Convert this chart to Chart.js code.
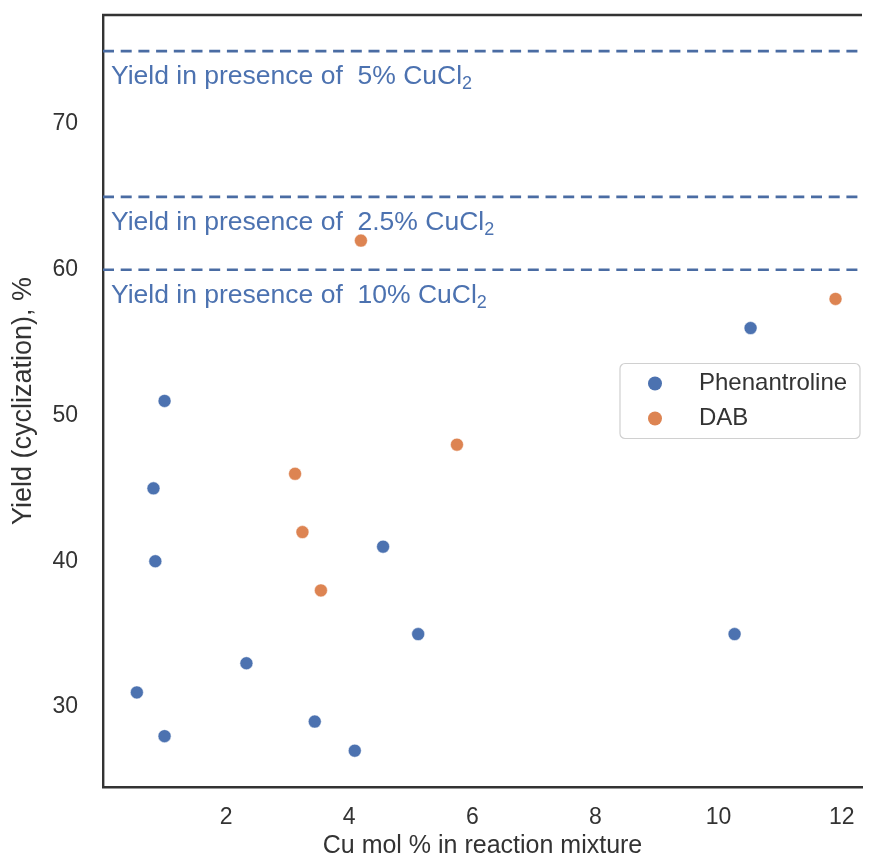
<!DOCTYPE html>
<html lang="en">
<head>
    <meta charset="UTF-8">
    <title>Yield vs Cu mol %</title>
    <style>
        html, body { margin: 0; padding: 0; background: #fff; overflow: hidden; }
        .grafico { width: 869px; height: 861px; }
        canvas { display: block; }
    </style>
</head>
<body>
    <div class="grafico">
        <canvas id="myChart" width="869" height="861"></canvas>
    </div>

<script src="https://cdn.jsdelivr.net/npm/chart.js"></script>

<script>
    // data
    const phenX = [1.0, 0.82, 0.85, 0.55, 1.0, 2.33, 3.44, 4.09, 4.55, 5.12, 10.26, 10.52];
    const phenY = [51, 45, 40, 31, 28, 33, 29, 27, 41, 35, 35, 56];
    const dabX = [4.19, 3.12, 3.24, 3.54, 5.75, 11.9];
    const dabY = [62, 46, 42, 38, 48, 58];

    const refYields = [75, 65, 60];
    const refLabels = ['5%', '2.5%', '10%'];

    const xTicks = [2, 4, 6, 8, 10, 12];
    const yTicks = [30, 40, 50, 60, 70];

    const xMin = 0, xMax = 12.33;
    const yMin = 24.51, yMax = 77.48;

    const azul = '#4c72b0';
    const laranja = '#dd8452';
    const texto = '#333333';
    const fonte = "'Liberation Sans', Arial, sans-serif";

    function pontos(xs, ys) {
        var lista = [];
        for (var i = 0; i < xs.length; i++) {
            lista.push({ x: xs[i], y: ys[i] });
        }
        return lista;
    }

    var datasets = [
        {
            type: 'scatter',
            label: 'Phenantroline',
            data: pontos(phenX, phenY),
            backgroundColor: azul,
            borderColor: '#ffffff',
            borderWidth: 0.5,
            pointRadius: 6.5
        },
        {
            type: 'scatter',
            label: 'DAB',
            data: pontos(dabX, dabY),
            backgroundColor: laranja,
            borderColor: '#ffffff',
            borderWidth: 0.5,
            pointRadius: 6.5
        }
    ];

    // horizontal reference lines
    for (var r = 0; r < refYields.length; r++) {
        datasets.push({
            type: 'line',
            label: 'ref' + r,
            data: [{ x: xMin, y: refYields[r] }, { x: xMax, y: refYields[r] }],
            borderColor: '#4a6ca3',
            borderWidth: 2.6,
            borderDash: [11, 6.7],
            pointRadius: 0,
            fill: false
        });
    }

    const moldura = {
        id: 'moldura',
        afterDraw(chart) {
            const ctx = chart.ctx;
            const a = chart.chartArea;
            ctx.save();
            ctx.strokeStyle = texto;
            ctx.lineWidth = 2.4;
            ctx.beginPath();
            ctx.moveTo(a.left - 1, a.top);
            ctx.lineTo(a.right, a.top);
            ctx.stroke();
            ctx.restore();
        }
    };

    const anotacoes = {
        id: 'anotacoes',
        afterDatasetsDraw(chart) {
            const ctx = chart.ctx;
            const ys = chart.scales.y;
            const xs = chart.scales.x;
            ctx.save();
            ctx.fillStyle = azul;
            ctx.textBaseline = 'alphabetic';
            ctx.textAlign = 'left';
            for (var i = 0; i < refYields.length; i++) {
                var px = xs.getPixelForValue(xMin) + 8;
                var py = ys.getPixelForValue(refYields[i]) + 33;
                var frase = 'Yield in presence of  ' + refLabels[i] + ' CuCl';
                ctx.font = '26.5px ' + fonte;
                ctx.fillText(frase, px, py);
                var w = ctx.measureText(frase).width;
                ctx.font = '18px ' + fonte;
                ctx.fillText('2', px + w, py + 5);
            }
            ctx.restore();
        }
    };

    const legenda = {
        id: 'legenda',
        afterDraw(chart) {
            const ctx = chart.ctx;
            const a = chart.chartArea;
            const largura = 240, altura = 75;
            const x0 = a.right - largura - 2;
            const y0 = (a.top + a.bottom) / 2 - altura / 2;
            ctx.save();
            ctx.fillStyle = 'rgba(255,255,255,0.85)';
            ctx.strokeStyle = '#d0d0d0';
            ctx.lineWidth = 1.2;
            ctx.beginPath();
            ctx.roundRect(x0, y0, largura, altura, 5);
            ctx.fill();
            ctx.stroke();
            ctx.font = '24px ' + fonte;
            ctx.textBaseline = 'middle';
            ctx.textAlign = 'left';
            for (var i = 0; i < 2; i++) {
                var ds = chart.data.datasets[i];
                var cy = y0 + 20 + i * 35;
                ctx.fillStyle = ds.backgroundColor;
                ctx.beginPath();
                ctx.arc(x0 + 35, cy, 7, 0, Math.PI * 2);
                ctx.fill();
                ctx.fillStyle = texto;
                ctx.fillText(ds.label, x0 + 79, cy);
            }
            ctx.restore();
        }
    };

    function zerarPadding(scale) {
        scale.paddingLeft = 0;
        scale.paddingRight = 0;
        scale.paddingTop = 0;
        scale.paddingBottom = 0;
    }

    const ctx = document.getElementById('myChart');

    new Chart(ctx, {
        data: { datasets: datasets },
        options: {
            responsive: false,
            animation: false,
            layout: { padding: { top: 15, left: 0, right: 0, bottom: 0 } },
            plugins: {
                legend: { display: false },
                tooltip: { enabled: false }
            },
            scales: {
                x: {
                    type: 'linear',
                    min: xMin,
                    max: xMax,
                    grid: { display: false, drawTicks: false },
                    border: { display: true, color: texto, width: 2.4 },
                    afterBuildTicks: function (scale) {
                        scale.ticks = xTicks.map(function (v) { return { value: v }; });
                    },
                    afterFit: function (scale) {
                        scale.height = 74;
                        zerarPadding(scale);
                    },
                    ticks: {
                        padding: 17,
                        color: texto,
                        font: { family: fonte, size: 23 }
                    },
                    title: {
                        display: true,
                        text: 'Cu mol % in reaction mixture',
                        color: texto,
                        padding: { top: 0, bottom: 0 },
                        font: { family: fonte, size: 25 }
                    }
                },
                y: {
                    type: 'linear',
                    min: yMin,
                    max: yMax,
                    grid: { display: false, drawTicks: false },
                    border: { display: true, color: texto, width: 2.4 },
                    afterBuildTicks: function (scale) {
                        scale.ticks = yTicks.map(function (v) { return { value: v }; });
                    },
                    afterFit: function (scale) {
                        scale.width = 103;
                        zerarPadding(scale);
                    },
                    ticks: {
                        padding: 25,
                        color: texto,
                        font: { family: fonte, size: 23 }
                    },
                    title: {
                        display: true,
                        text: 'Yield (cyclization), %',
                        color: texto,
                        padding: { top: 7, bottom: 0 },
                        font: { family: fonte, size: 27 }
                    }
                }
            }
        },
        plugins: [moldura, anotacoes, legenda]
    });
</script>
</body>
</html>
